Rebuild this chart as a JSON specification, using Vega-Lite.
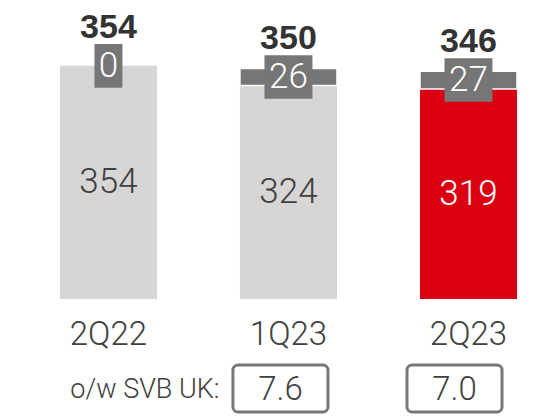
{
  "$schema": "https://vega.github.io/schema/vega-lite/v6.json",
  "padding": {"left": 18, "top": 0, "right": 0, "bottom": 2},
  "background": "white",
  "config": {"view": {"stroke": null}, "concat": {"spacing": 12}},
  "spacing": 12,
  "datasets": {
    "rows": [
      {"period": "2Q22", "base": 354, "top": 0, "total": 354, "svbuk": null},
      {"period": "1Q23", "base": 324, "top": 26, "total": 350, "svbuk": "7.6"},
      {"period": "2Q23", "base": 319, "top": 27, "total": 346, "svbuk": "7.0"}
    ]
  },
  "vconcat": [
    {
      "width": 519,
      "height": 299,
      "data": {"name": "rows"},
      "transform": [
        {"calculate": "(datum.base + datum.total) / 2", "as": "mid"},
        {"calculate": "datum.base / 2", "as": "baseMid"}
      ],
      "encoding": {
        "x": {
          "field": "period",
          "type": "nominal",
          "sort": ["2Q22", "1Q23", "2Q23"],
          "scale": {"paddingInner": 0.461, "paddingOuter": 0.172, "align": 0.677},
          "axis": {
            "title": null, "domain": false, "ticks": false, "labelAngle": 0,
            "labelPadding": 19, "labelFontSize": 33, "labelFont": "Roboto",
            "labelFontWeight": 300, "labelColor": "#404040"
          }
        }
      },
      "layer": [
        {
          "mark": {"type": "bar"},
          "encoding": {
            "y": {"field": "base", "type": "quantitative", "scale": {"domain": [0, 454], "nice": false, "zero": true}, "axis": null},
            "color": {"condition": {"test": "datum.period === '2Q23'", "value": "#db0011"}, "value": "#d7d6d4"}
          }
        },
        {
          "transform": [{"filter": "datum.top > 0"}],
          "mark": {"type": "bar", "color": "#767676", "stroke": "white", "strokeWidth": 1.5},
          "encoding": {
            "y": {"field": "base", "type": "quantitative"},
            "y2": {"field": "total"}
          }
        },
        {
          "mark": {"type": "rule", "color": "#404040", "strokeWidth": 2},
          "encoding": {"y": {"datum": 0}}
        },
        {
          "mark": {"type": "point", "filled": true, "opacity": 1, "color": "#767676", "size": 1900},
          "encoding": {
            "y": {"field": "mid", "type": "quantitative"},
            "shape": {
              "condition": {"test": "datum.period === '2Q22'", "value": "M-0.642,-1H0.642V1H-0.642Z"},
              "value": "M-1.1,-1H1.1V1H-1.1Z"
            }
          }
        },
        {
          "mark": {"type": "text", "color": "white", "fontSize": 35, "font": "Roboto", "fontWeight": 300, "baseline": "middle"},
          "encoding": {
            "y": {"field": "mid", "type": "quantitative"},
            "text": {"field": "top", "type": "quantitative"}
          }
        },
        {
          "mark": {"type": "text", "fontSize": 35, "font": "Roboto", "fontWeight": 300, "baseline": "middle"},
          "encoding": {
            "y": {"field": "baseMid", "type": "quantitative"},
            "text": {"field": "base", "type": "quantitative"},
            "color": {"condition": {"test": "datum.period === '2Q23'", "value": "white"}, "value": "#404040"}
          }
        },
        {
          "mark": {"type": "text", "fontSize": 34, "font": "Liberation Sans", "fontWeight": "bold", "baseline": "alphabetic", "dy": -28, "color": "#333333"},
          "encoding": {
            "y": {"field": "mid", "type": "quantitative"},
            "text": {"field": "total", "type": "quantitative"}
          }
        }
      ]
    },
    {
      "width": 519,
      "height": 47,
      "data": {"name": "rows"},
      "encoding": {
        "x": {
          "field": "period",
          "type": "nominal",
          "sort": ["2Q22", "1Q23", "2Q23"],
          "scale": {"domain": ["2Q22", "1Q23", "2Q23"], "paddingInner": 0.454, "paddingOuter": 0.218, "align": 0.539},
          "axis": null
        }
      },
      "layer": [
        {
          "transform": [{"filter": "datum.svbuk != null"}],
          "mark": {"type": "bar", "fill": "white", "stroke": "#777777", "strokeWidth": 3, "cornerRadius": 5}
        },
        {
          "transform": [{"filter": "datum.svbuk != null"}],
          "mark": {"type": "text", "fontSize": 33, "font": "Roboto", "fontWeight": 300, "color": "#404040", "baseline": "middle", "dy": 1}
          ,
          "encoding": {"text": {"field": "svbuk", "type": "nominal"}}
        },
        {
          "transform": [{"filter": "datum.period === '2Q22'"}, {"calculate": "'o/w SVB UK:'", "as": "lbl"}],
          "mark": {"type": "text", "fontSize": 27, "font": "Roboto", "fontWeight": 300, "color": "#404040", "baseline": "middle", "align": "right", "dx": 113, "dy": 1},
          "encoding": {"text": {"field": "lbl", "type": "nominal"}}
        }
      ]
    }
  ]
}
